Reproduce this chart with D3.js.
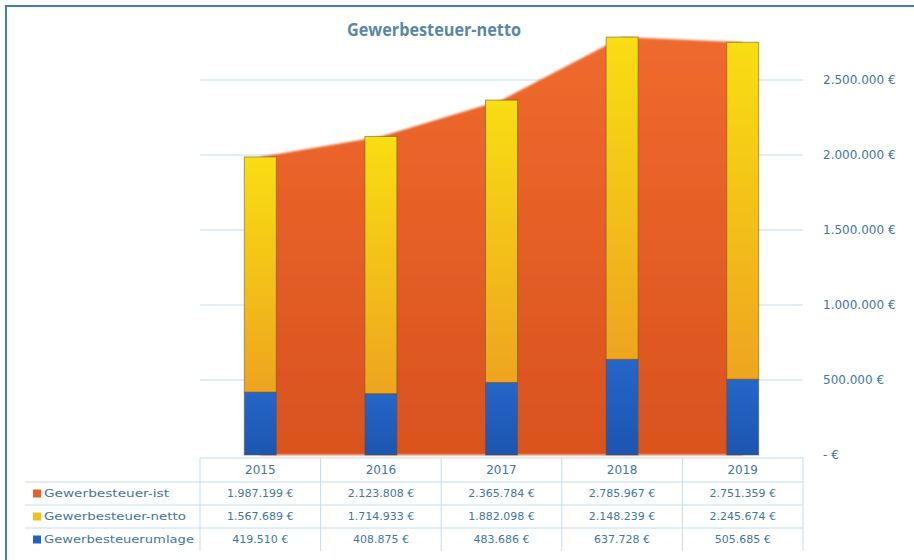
<!DOCTYPE html>
<html>
<head>
<meta charset="utf-8">
<script src="https://cdn.jsdelivr.net/npm/d3@7"></script>
<style>
  body { margin: 0; background: #fff; }
  svg { display: block; font-family: "DejaVu Sans", sans-serif; }
</style>
</head>
<body>
<div id="chart"></div>
<script>
// data
const years = ["2015", "2016", "2017", "2018", "2019"];
const ist = [1987199, 2123808, 2365784, 2785967, 2751359];
const netto = [1567689, 1714933, 1882098, 2148239, 2245674];
const umlage = [419510, 408875, 483686, 637728, 505685];
const yTicks = [0, 500000, 1000000, 1500000, 2000000, 2500000];

const seriesNames = ["Gewerbesteuer-ist", "Gewerbesteuer-netto", "Gewerbesteuerumlage"];
const seriesColors = ["#e8602a", "#f2c21c", "#2262c2"];

const width = 914, height = 560;
const textColor = "#3f76a4";
const lineColor = "#c3dcef";

const de = d3.formatLocale({ decimal: ",", thousands: ".", grouping: [3], currency: ["", " €"] });
const fmt = d3.format; // unused default
const money = de.format(",.0f");
const euro = (v) => v === 0 ? "- €" : money(v) + " €";

const svg = d3.select("#chart").append("svg")
  .attr("width", width).attr("height", height);

const defs = svg.append("defs");
const gY = defs.append("linearGradient").attr("id", "gYellow")
  .attr("x1", 0).attr("y1", 0).attr("x2", 0).attr("y2", 1);
gY.append("stop").attr("offset", "0%").attr("stop-color", "#f8de12");
gY.append("stop").attr("offset", "100%").attr("stop-color", "#eea41f");
const gO = defs.append("linearGradient").attr("id", "gOrange")
  .attr("x1", 0).attr("y1", 0).attr("x2", 0).attr("y2", 1);
gO.append("stop").attr("offset", "0%").attr("stop-color", "#ef6a2e");
gO.append("stop").attr("offset", "100%").attr("stop-color", "#d9531f");
const gB = defs.append("linearGradient").attr("id", "gBlue")
  .attr("x1", 0).attr("y1", 0).attr("x2", 0).attr("y2", 1);
gB.append("stop").attr("offset", "0%").attr("stop-color", "#2566c8");
gB.append("stop").attr("offset", "100%").attr("stop-color", "#1d55b0");
defs.append("filter").attr("id", "soft")
  .append("feGaussianBlur").attr("stdDeviation", 0.8);

// outer frame
svg.append("path")
  .attr("d", "M6,560 V6 H914")
  .attr("fill", "none")
  .attr("stroke", "#3f80b6")
  .attr("stroke-width", 2);

const x = d3.scaleBand().domain(years).range([200, 803]);
const y = d3.scaleLinear().domain([0, 3000000]).range([455, 5]);
const cx = (d) => x(d) + x.bandwidth() / 2;
const barW = 32;

// gridlines
svg.append("g")
  .selectAll("line")
  .data(yTicks.slice(1))
  .join("line")
  .attr("x1", 200).attr("x2", 803)
  .attr("y1", (d) => y(d)).attr("y2", (d) => y(d))
  .attr("stroke", lineColor).attr("stroke-width", 1);

// area for Gewerbesteuer-ist
const area = d3.area()
  .x((d, i) => cx(years[i]))
  .y0(y(0))
  .y1((d) => y(d));
svg.append("path")
  .datum(ist)
  .attr("d", area)
  .attr("fill", "url(#gOrange)")
  .attr("filter", "url(#soft)");

// stacked bars
const stackData = years.map((yr, i) => ({ year: yr, umlage: umlage[i], netto: netto[i] }));
const stacked = d3.stack().keys(["umlage", "netto"])(stackData);
const fills = { umlage: "url(#gBlue)", netto: "url(#gYellow)" };

svg.append("g")
  .selectAll("g")
  .data(stacked)
  .join("g")
  .attr("fill", (s) => fills[s.key])
  .selectAll("rect")
  .data((s) => s)
  .join("rect")
  .attr("x", (d) => cx(d.data.year) - barW / 2)
  .attr("width", barW)
  .attr("y", (d) => y(d[1]))
  .attr("height", (d) => y(d[0]) - y(d[1]))
  .attr("stroke", "#6a5222")
  .attr("stroke-opacity", 0.55)
  .attr("stroke-width", 1);

// y axis labels on the right
svg.append("g")
  .selectAll("text")
  .data(yTicks)
  .join("text")
  .attr("x", 823)
  .attr("y", (d) => y(d))
  .attr("dy", "0.35em")
  .attr("font-size", 12)
  .attr("fill", textColor)
  .text(euro);

// title
svg.append("text")
  .attr("x", 434).attr("y", 36)
  .attr("text-anchor", "middle")
  .attr("font-family", "'Open Sans', sans-serif")
  .attr("font-weight", "bold")
  .attr("font-size", 18)
  .attr("textLength", 174)
  .attr("lengthAdjust", "spacingAndGlyphs")
  .attr("fill", "#5a88a3")
  .text("Gewerbesteuer-netto");

// data table
const rowTop = [458, 482, 505, 528, 551];
const table = svg.append("g");
const hLines = [
  { y: rowTop[0], x1: 200 },
  { y: rowTop[1], x1: 25 },
  { y: rowTop[2], x1: 25 },
  { y: rowTop[3], x1: 25 },
];
table.selectAll(".h")
  .data(hLines)
  .join("line")
  .attr("x1", (d) => d.x1).attr("x2", 803)
  .attr("y1", (d) => d.y).attr("y2", (d) => d.y)
  .attr("stroke", lineColor);
table.selectAll(".v")
  .data(years.map((d) => x(d)).concat([803]))
  .join("line")
  .attr("x1", (d) => d).attr("x2", (d) => d)
  .attr("y1", rowTop[0]).attr("y2", rowTop[4])
  .attr("stroke", lineColor);

table.selectAll(".yr")
  .data(years)
  .join("text")
  .attr("x", cx)
  .attr("y", (rowTop[0] + rowTop[1]) / 2)
  .attr("dy", "0.35em")
  .attr("text-anchor", "middle")
  .attr("font-size", 12)
  .attr("fill", textColor)
  .text((d) => d);

const rows = [ist, netto, umlage];
const labelLen = [125, 142, 150];
rows.forEach((vals, r) => {
  const cy = (rowTop[r + 1] + rowTop[r + 2]) / 2;
  table.append("rect")
    .attr("x", 33).attr("y", cy - 4)
    .attr("width", 8).attr("height", 8)
    .attr("fill", seriesColors[r]);
  table.append("text")
    .attr("x", 44).attr("y", cy)
    .attr("dy", "0.35em")
    .attr("font-size", 11)
    .attr("textLength", labelLen[r])
    .attr("lengthAdjust", "spacingAndGlyphs")
    .attr("fill", textColor)
    .text(seriesNames[r]);
  table.selectAll(".v" + r)
    .data(vals)
    .join("text")
    .attr("x", (d, i) => cx(years[i]))
    .attr("y", cy)
    .attr("dy", "0.35em")
    .attr("text-anchor", "middle")
    .attr("font-size", 11)
    .attr("fill", textColor)
    .text(euro);
});
</script>
</body>
</html>
